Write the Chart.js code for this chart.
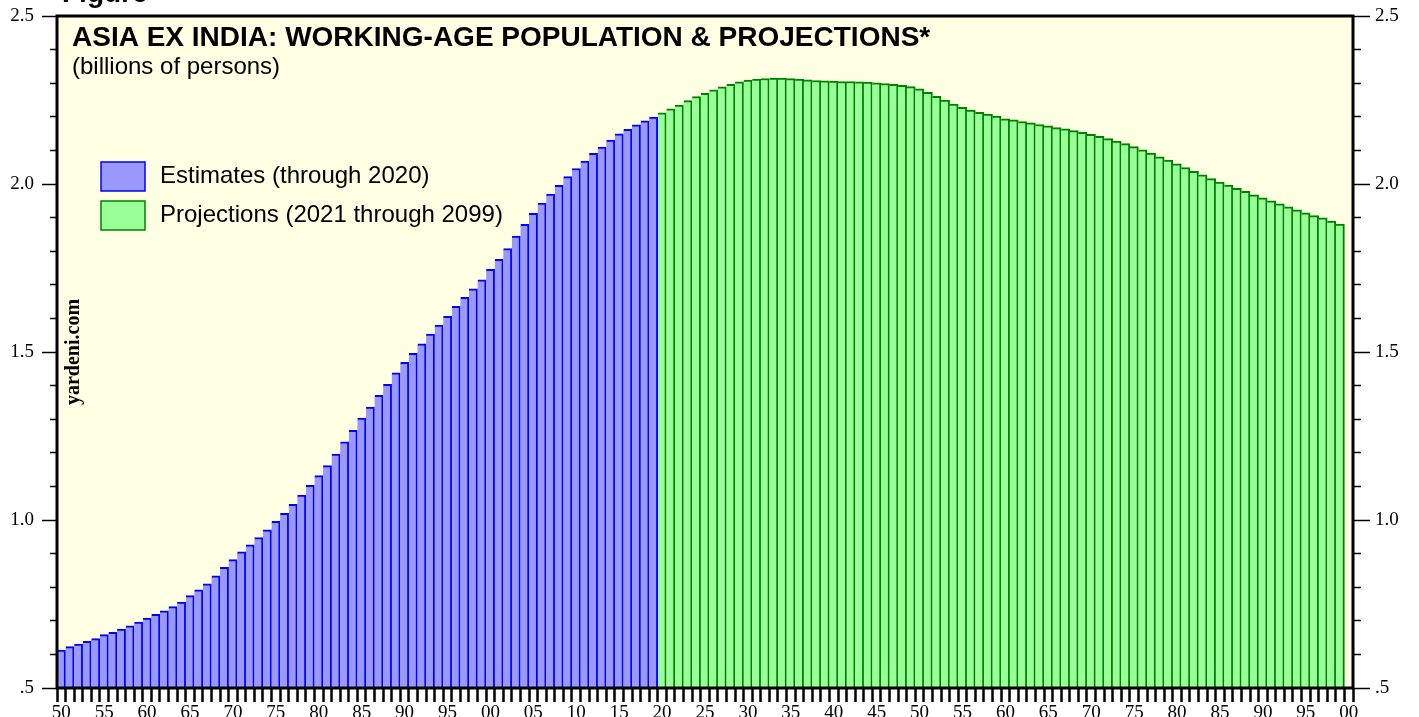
<!DOCTYPE html>
<html><head><meta charset="utf-8">
<script src="https://cdn.jsdelivr.net/npm/chart.js@4/dist/chart.umd.min.js"></script>
<style>html,body{margin:0;padding:0;background:#fff;}canvas{display:block}</style>
</head><body>
<canvas id="c" width="1419" height="717"></canvas>
<script>
// Categories: 1950 .. 2100 (last slot empty)
const years = [];
for (let y = 1950; y <= 2100; y++) years.push(y);

// Working-age population, billions (estimates, 1950-2019 bars)
const estimates = [
  0.613, 0.623, 0.631, 0.639, 0.647, 0.659, 0.666, 0.675, 0.685, 0.696,
  0.708, 0.719, 0.730, 0.742, 0.756, 0.775, 0.792, 0.810, 0.834, 0.859,
  0.882, 0.905, 0.926, 0.948, 0.971, 0.996, 1.020, 1.047, 1.074, 1.103,
  1.132, 1.162, 1.196, 1.233, 1.267, 1.303, 1.336, 1.371, 1.404, 1.438,
  1.469, 1.496, 1.524, 1.553, 1.580, 1.606, 1.636, 1.663, 1.688, 1.715,
  1.746, 1.776, 1.808, 1.845, 1.880, 1.913, 1.943, 1.970, 1.996, 2.022,
  2.046, 2.068, 2.091, 2.110, 2.131, 2.149, 2.163, 2.176, 2.188, 2.199
];

// Projections (2020-2099 bars)
const projections = [
  2.212, 2.224, 2.235, 2.248, 2.260, 2.270, 2.280, 2.289, 2.297, 2.304,
  2.309, 2.312, 2.314, 2.315, 2.315, 2.314, 2.312, 2.310, 2.308, 2.307,
  2.306, 2.305, 2.305, 2.304, 2.303, 2.301, 2.299, 2.297, 2.294, 2.290,
  2.283, 2.273, 2.261, 2.250, 2.238, 2.228, 2.220, 2.213, 2.208, 2.202,
  2.194, 2.191, 2.186, 2.182, 2.177, 2.173, 2.168, 2.164, 2.159, 2.154,
  2.148, 2.142, 2.135, 2.128, 2.120, 2.111, 2.102, 2.092, 2.081, 2.071,
  2.060, 2.049, 2.038, 2.027, 2.016, 2.006, 1.997, 1.987, 1.978, 1.968,
  1.959, 1.950, 1.941, 1.932, 1.923, 1.914, 1.906, 1.899, 1.890, 1.881
];

const yLabels = { '0.5': '.5', '1.0': '1.0', '1.5': '1.5', '2.0': '2.0', '2.5': '2.5' };

const titleText = 'ASIA EX INDIA: WORKING-AGE POPULATION & PROJECTIONS*';
const subtitleText = '(billions of persons)';
const legendLabels = ['Estimates (through 2020)', 'Projections (2021 through 2099)'];
const watermark = 'yardeni.com';

const estData = years.map((y, i) => i < estimates.length ? estimates[i] : null);
const projData = years.map((y, i) => {
  const j = i - estimates.length;
  return (j >= 0 && j < projections.length) ? projections[j] : null;
});

const BLUE_FILL = '#9999ff', BLUE_LINE = '#0000ff';
const GREEN_FILL = '#99ff99', GREEN_LINE = '#008000';

function isMajor(v) { return Math.abs(v * 2 - Math.round(v * 2)) < 1e-6; }
function yLabel(v) {
  if (!isMajor(v)) return '';
  return yLabels[(Math.round(v * 2) / 2).toFixed(1)] || '';
}

const decor = {
  id: 'decor',
  beforeDraw(chart) {
    const { ctx, chartArea: a } = chart;
    ctx.save();
    ctx.fillStyle = '#ffffe3';
    ctx.fillRect(a.left, a.top, a.right - a.left, a.bottom - a.top);
    ctx.restore();
  },
  afterDatasetsDraw(chart) {
    const { ctx, chartArea: a } = chart;
    ctx.save();
    ctx.lineWidth = 3;
    ctx.strokeStyle = '#000';
    ctx.strokeRect(a.left, a.top, a.right - a.left, a.bottom - a.top);
    ctx.restore();
  },
  afterDraw(chart) {
    const { ctx } = chart;
    ctx.save();
    ctx.fillStyle = '#000';
    ctx.textBaseline = 'alphabetic';
    ctx.textAlign = 'left';
    ctx.font = 'bold 28px "Liberation Sans", Arial, sans-serif';
    ctx.fillText('Figure', 62, 2);
    ctx.fillText(titleText, 72, 46);
    ctx.font = '24px "Liberation Sans", Arial, sans-serif';
    ctx.fillText(subtitleText, 72, 74);
    const items = [[BLUE_FILL, BLUE_LINE, 162], [GREEN_FILL, GREEN_LINE, 201]];
    items.forEach(([f, l, y], k) => {
      ctx.fillStyle = f;
      ctx.fillRect(101, y, 44, 29);
      ctx.strokeStyle = l;
      ctx.lineWidth = 1.5;
      ctx.strokeRect(101, y, 44, 29);
      ctx.fillStyle = '#000';
      ctx.textBaseline = 'middle';
      ctx.font = '24px "Liberation Sans", Arial, sans-serif';
      ctx.fillText(legendLabels[k], 160, y + 14);
    });
    ctx.translate(74, 352);
    ctx.rotate(-Math.PI / 2);
    ctx.textAlign = 'center';
    ctx.textBaseline = 'middle';
    ctx.font = 'bold 20px "Liberation Serif", "Times New Roman", serif';
    ctx.fillText(watermark, 0, 0);
    ctx.restore();
  }
};

const tickFont = { family: '"Liberation Serif", "Times New Roman", serif', size: 19 };

function fixY(width) {
  return s => { s.width = width; s.paddingTop = 0; s.paddingBottom = 0; };
}

new Chart(document.getElementById('c'), {
  type: 'bar',
  data: {
    labels: years,
    datasets: [
      { label: legendLabels[0], data: estData, backgroundColor: BLUE_FILL, borderColor: BLUE_LINE,
        borderWidth: { top: 2, right: 2, left: 0, bottom: 0 }, grouped: false,
        categoryPercentage: 1, barPercentage: 1, yAxisID: 'y' },
      { label: legendLabels[1], data: projData, backgroundColor: GREEN_FILL, borderColor: GREEN_LINE,
        borderWidth: { top: 2, right: 2, left: 0, bottom: 0 }, grouped: false,
        categoryPercentage: 1, barPercentage: 1, yAxisID: 'y' }
    ]
  },
  options: {
    responsive: false,
    animation: false,
    layout: { padding: { top: 16, left: 0, right: 0, bottom: 0 } },
    plugins: { legend: { display: false }, tooltip: { enabled: false }, title: { display: false } },
    scales: {
      x: {
        type: 'category', offset: true,
        grid: { display: true, offset: true, drawOnChartArea: false, drawTicks: true,
                tickLength: 14, tickWidth: 2.5, tickColor: '#000', color: '#000' },
        border: { display: false },
        ticks: { autoSkip: false, maxRotation: 0, minRotation: 0, padding: 0, color: '#000', font: tickFont,
                 callback: (v, i) => years[i] % 5 === 0 ? String(years[i]).slice(2) : '' },
        afterFit: s => { s.height = 29; s.paddingLeft = 0; s.paddingRight = 0; }
      },
      y: {
        position: 'left', min: 0.5, max: 2.5,
        grid: { drawOnChartArea: false, drawTicks: true, tickLength: 15, tickWidth: 1.5, tickColor: '#000',
                tickBorderDash: c => isMajor(c.tick.value) ? [] : [0, 8, 20, 0] },
        border: { display: false },
        ticks: { stepSize: 0.1, autoSkip: false, padding: 8, color: '#000', font: tickFont,
                 callback: v => yLabel(v) },
        afterFit: fixY(57)
      },
      y2: {
        position: 'right', min: 0.5, max: 2.5,
        grid: { drawOnChartArea: false, drawTicks: true, tickLength: 17, tickWidth: 1.5, tickColor: '#000',
                tickBorderDash: c => isMajor(c.tick.value) ? [] : [8, 100] },
        border: { display: false },
        ticks: { stepSize: 0.1, autoSkip: false, padding: 5, color: '#000', font: tickFont,
                 callback: v => yLabel(v) },
        afterFit: fixY(66)
      }
    }
  },
  plugins: [decor]
});
</script>
</body></html>
